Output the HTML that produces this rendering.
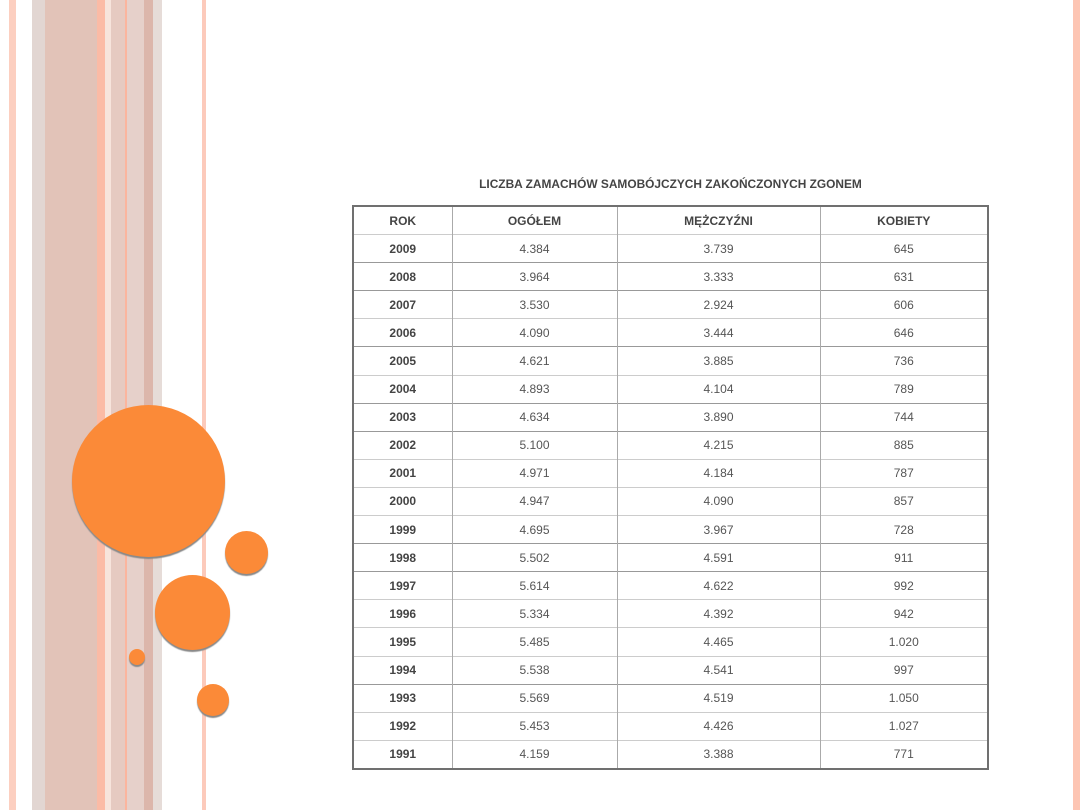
<!DOCTYPE html>
<html><head><meta charset="utf-8"><style>
body{margin:0;width:1080px;height:810px;position:relative;background:#fff;overflow:hidden;font-family:"Liberation Sans",Arial,sans-serif}
.s{position:absolute;top:0;height:810px}
.c{position:absolute;border-radius:50%;background:#fb8a38;box-shadow:0 2px 1px #8a8a8a}
table{position:absolute;left:352px;top:205px;width:637px;border-collapse:collapse;border:2px solid #707070;font-size:12px;color:#555}
td{border-left:1px solid #aaa;border-top:1px solid #ccc;height:27.1px;text-align:center;padding:0}
td:first-child{font-weight:bold;color:#444;border-left:none}
tr.h td{font-weight:bold;color:#444;border-top:none}
tr.d td{border-top:1px solid #999}
.t{position:absolute;left:352px;width:637px;top:177px;text-align:center;font-size:11.9px;font-weight:bold;color:#444}
</style></head><body>
<div class="s" style="left:9px;width:7px;background:#fccfc0"></div>
<div class="s" style="left:32px;width:13px;background:#e2d6d2"></div>
<div class="s" style="left:45px;width:52px;background:#e2c3b8"></div>
<div class="s" style="left:97px;width:8px;background:#fbbba6"></div>
<div class="s" style="left:105px;width:6px;background:#f7e4dc"></div>
<div class="s" style="left:111px;width:14px;background:#e6cac1"></div>
<div class="s" style="left:125px;width:2px;background:#fbb59e"></div>
<div class="s" style="left:127px;width:17px;background:#e6d0ca"></div>
<div class="s" style="left:144px;width:9px;background:#dcb6ab"></div>
<div class="s" style="left:153px;width:9px;background:#e6dcd8"></div>
<div class="s" style="left:202px;width:4px;background:#fccabb"></div>
<div class="s" style="left:1073px;width:7px;background:#fdc5b3"></div>
<div class="c" style="left:72px;top:405px;width:153px;height:152px"></div>
<div class="c" style="left:225px;top:531px;width:43px;height:43px"></div>
<div class="c" style="left:155px;top:575px;width:75px;height:75px"></div>
<div class="c" style="left:129px;top:649px;width:16px;height:16px"></div>
<div class="c" style="left:197px;top:684px;width:32px;height:32px"></div>
<div class="t">LICZBA ZAMACHÓW SAMOBÓJCZYCH ZAKOŃCZONYCH ZGONEM</div>
<table>
<colgroup><col style="width:99px"><col style="width:165px"><col style="width:203px"><col></colgroup>
<tr class="h"><td>ROK</td><td>OGÓŁEM</td><td>MĘŻCZYŹNI</td><td>KOBIETY</td></tr>
<tr><td>2009</td><td>4.384</td><td>3.739</td><td>645</td></tr>
<tr class="d"><td>2008</td><td>3.964</td><td>3.333</td><td>631</td></tr>
<tr class="d"><td>2007</td><td>3.530</td><td>2.924</td><td>606</td></tr>
<tr><td>2006</td><td>4.090</td><td>3.444</td><td>646</td></tr>
<tr class="d"><td>2005</td><td>4.621</td><td>3.885</td><td>736</td></tr>
<tr><td>2004</td><td>4.893</td><td>4.104</td><td>789</td></tr>
<tr class="d"><td>2003</td><td>4.634</td><td>3.890</td><td>744</td></tr>
<tr class="d"><td>2002</td><td>5.100</td><td>4.215</td><td>885</td></tr>
<tr><td>2001</td><td>4.971</td><td>4.184</td><td>787</td></tr>
<tr><td>2000</td><td>4.947</td><td>4.090</td><td>857</td></tr>
<tr><td>1999</td><td>4.695</td><td>3.967</td><td>728</td></tr>
<tr class="d"><td>1998</td><td>5.502</td><td>4.591</td><td>911</td></tr>
<tr class="d"><td>1997</td><td>5.614</td><td>4.622</td><td>992</td></tr>
<tr><td>1996</td><td>5.334</td><td>4.392</td><td>942</td></tr>
<tr><td>1995</td><td>5.485</td><td>4.465</td><td>1.020</td></tr>
<tr><td>1994</td><td>5.538</td><td>4.541</td><td>997</td></tr>
<tr class="d"><td>1993</td><td>5.569</td><td>4.519</td><td>1.050</td></tr>
<tr><td>1992</td><td>5.453</td><td>4.426</td><td>1.027</td></tr>
<tr><td>1991</td><td>4.159</td><td>3.388</td><td>771</td></tr>
</table>
</body></html>
